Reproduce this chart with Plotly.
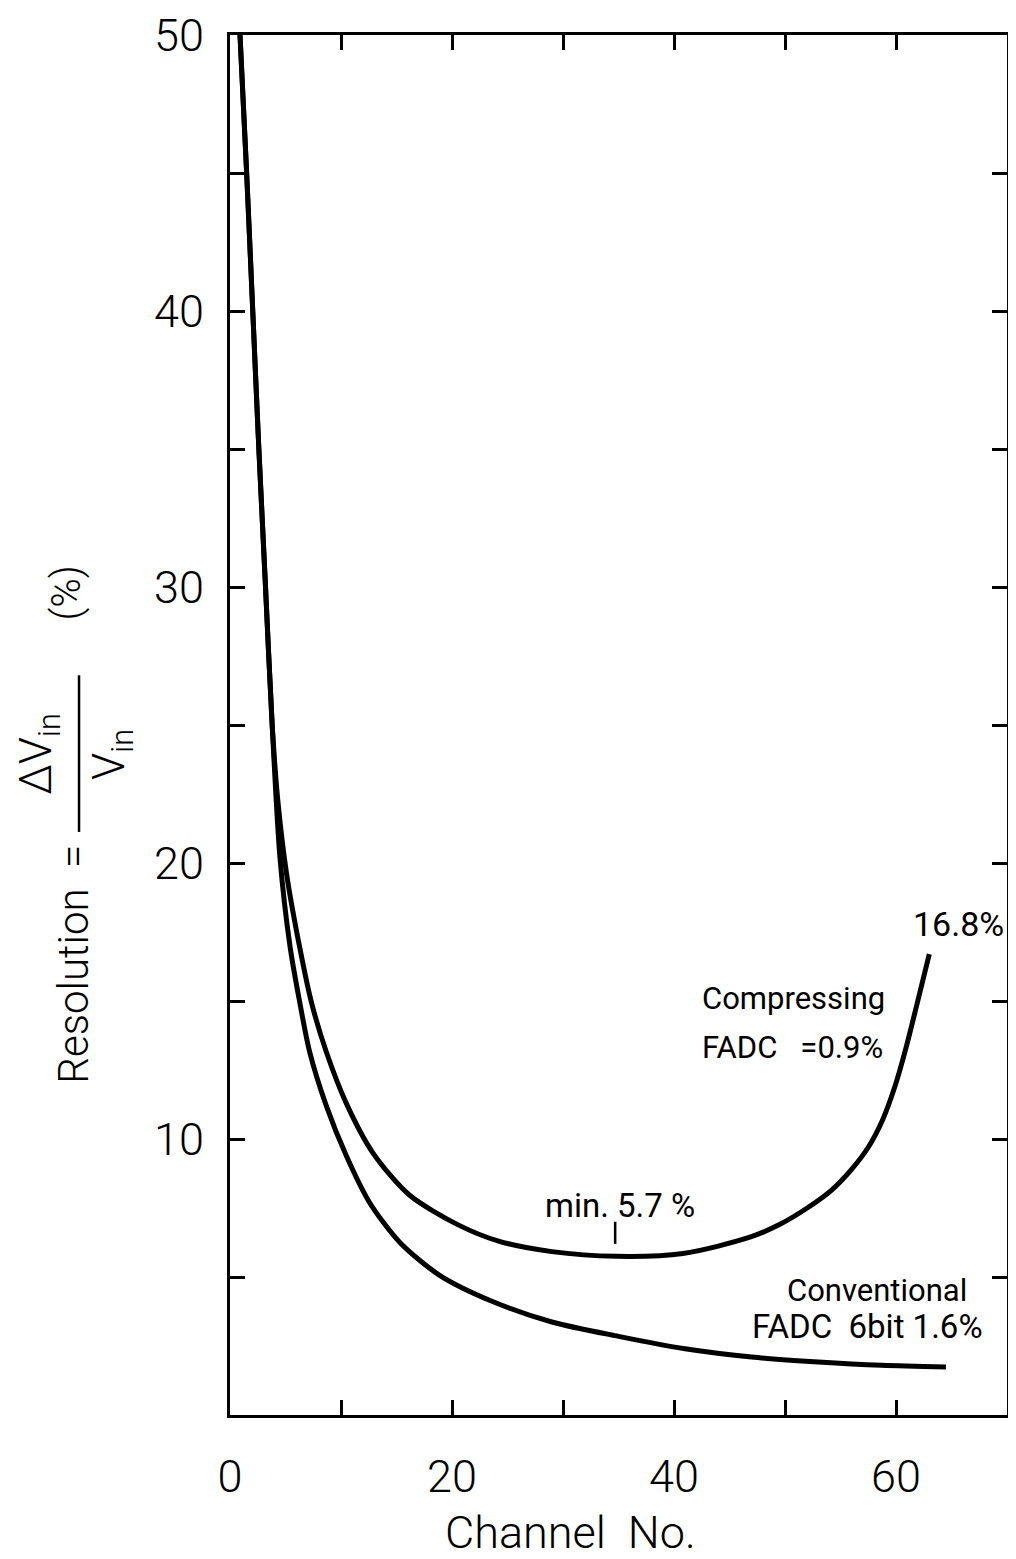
import plotly.graph_objects as go

# Data (Channel No. vs Resolution %)
conv_x = [0.9, 1.5, 2.05, 2.6, 3.2, 3.8, 4.5, 5.4, 6.28, 7.18, 8.68, 10.47, 12.57, 15.26, 18.85, 23.6, 29.0, 35.0, 41.0, 47.0, 53.0, 58.7, 64.5]
conv_y = [50.0, 45.0, 40.0, 35.0, 30.0, 25.0, 20.2, 17.0, 14.96, 13.15, 11.2, 9.4, 7.7, 6.27, 5.07, 4.12, 3.37, 2.85, 2.4, 2.1, 1.92, 1.8, 1.74]

comp_x = [0.9, 1.5, 2.05, 2.6, 3.2, 3.8, 4.3, 5.1, 6.3, 7.33, 8.68, 10.47, 12.87, 16.16, 20.6, 24.2, 29.0, 34.8, 40.8, 46.9, 49.5, 52.0, 54.2, 56.0, 57.5, 58.8, 59.9, 60.9, 61.9, 63.0]
comp_y = [50.0, 45.0, 40.0, 35.0, 30.0, 25.0, 22.3, 19.6, 16.9, 14.96, 13.15, 11.3, 9.5, 7.97, 6.88, 6.3, 5.92, 5.75, 5.85, 6.45, 6.9, 7.5, 8.15, 8.9, 9.7, 10.7, 11.9, 13.3, 14.9, 16.7]

min_mark_x = [34.7, 34.7]
min_mark_y = [6.2, 7.0]

x_tickvals = [0, 20, 40, 60]
y_tickvals = [10, 20, 30, 40, 50]

FONT = "Roboto"
BLACK = "#000000"

fig = go.Figure()
for xs, ys in ((conv_x, conv_y), (comp_x, comp_y)):
    fig.add_trace(go.Scatter(x=xs, y=ys, mode="lines",
                             line=dict(color=BLACK, width=5, shape="spline", smoothing=0.8),
                             showlegend=False, hoverinfo="skip"))
fig.add_trace(go.Scatter(x=min_mark_x, y=min_mark_y, mode="lines",
                         line=dict(color=BLACK, width=2.5),
                         showlegend=False, hoverinfo="skip"))

axis_common = dict(
    showgrid=False, zeroline=False, showline=True, linecolor=BLACK, linewidth=3,
    mirror="ticks", ticks="inside", ticklen=15, tickwidth=2.5, tickcolor=BLACK,
    automargin=False, ticklabeloverflow="allow",
    tickfont=dict(family=FONT, size=45, color=BLACK, weight=300),
)

fig.update_xaxes(range=[0, 70], tickmode="array", tickvals=x_tickvals,
                 ticktext=[str(v) for v in x_tickvals],
                 minor=dict(dtick=10, tick0=0, ticks="inside", ticklen=15, tickwidth=2.5, tickcolor=BLACK),
                 ticklabelstandoff=20, **axis_common)
fig.update_yaxes(range=[0, 50], tickmode="array", tickvals=y_tickvals,
                 ticktext=[str(v) for v in y_tickvals],
                 minor=dict(dtick=5, tick0=0, ticks="inside", ticklen=15, tickwidth=2.5, tickcolor=BLACK),
                 ticklabelstandoff=14, **axis_common)

txt = dict(family=FONT, size=31, color=BLACK)
lab = dict(family=FONT, color=BLACK, weight=300)


def pann(x, y, text, size, angle=0):
    return dict(x=x, y=y, text=text, xref="paper", yref="paper", showarrow=False,
                xanchor="center", yanchor="middle", textangle=angle,
                font=dict(size=size, **lab))


ann = [
    dict(x=65.6, y=17.8, text="16.8%", xref="x", yref="y", showarrow=False,
         font=dict(family=FONT, size=34, color=BLACK)),
    dict(x=42.3, y=15.1, text="Compressing", xref="x", yref="y", showarrow=False, font=txt, xanchor="left"),
    dict(x=42.3, y=13.3, text="FADC   =0.9%", xref="x", yref="y", showarrow=False, font=txt, xanchor="left"),
    dict(x=35.1, y=7.6, text="min. 5.7 %", xref="x", yref="y", showarrow=False,
         font=dict(family=FONT, size=33, color=BLACK)),
    dict(x=58.3, y=4.5, text="Conventional", xref="x", yref="y", showarrow=False, font=txt),
    dict(x=57.4, y=3.2, text="FADC  6bit 1.6%", xref="x", yref="y", showarrow=False,
         font=dict(family=FONT, size=33, color=BLACK)),
    # axis titles
    pann(0.4376, -0.085, "Channel  No.", 45),
    pann(-0.2008, 0.327, "Resolution  =", 42, -90),
    pann(-0.246, 0.479, "ΔV<sub>in</sub>", 44, -90),
    pann(-0.152, 0.479, "V<sub>in</sub>", 44, -90),
    pann(-0.2098, 0.596, "(%)", 40, -90),
]

fig.update_layout(
    width=1008, height=1551,
    margin=dict(l=222, r=9, t=27, b=144),
    paper_bgcolor="white", plot_bgcolor="white",
    annotations=ann,
    shapes=[dict(type="line", xref="paper", yref="paper", x0=-0.1943, x1=-0.1943,
                 y0=0.4225, y1=0.536, line=dict(color=BLACK, width=2.5))],
)

fig.write_html("out.html")
